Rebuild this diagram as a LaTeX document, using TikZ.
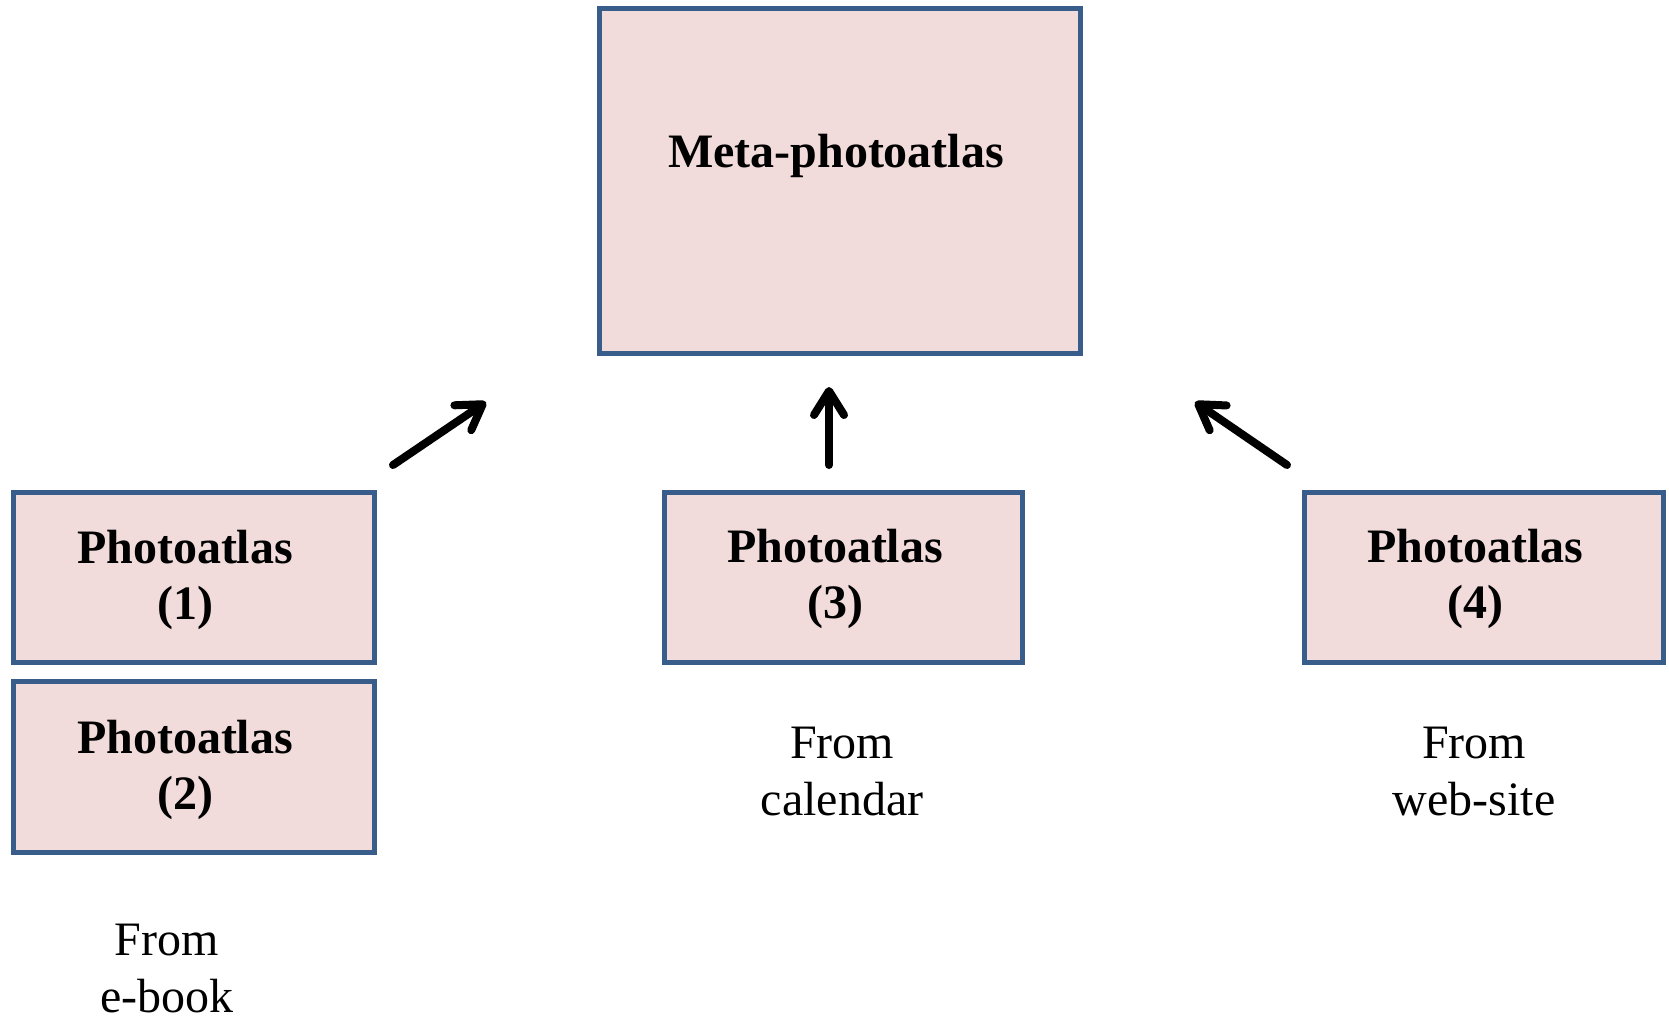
\documentclass[tikz,border=0pt]{standalone}
\usepackage{fontspec}
\setmainfont{Liberation Serif}
\usetikzlibrary{arrows.meta}
\definecolor{boxborder}{RGB}{56,93,138}
\definecolor{boxfill}{RGB}{242,220,219}
\begin{document}
\begin{tikzpicture}[x=1pt,y=-1pt,
  box/.style={draw=boxborder, fill=boxfill, line width=5.5pt, inner sep=0pt, rectangle},
  boldlbl/.style={align=center, inner sep=0pt, font=\fontsize{48}{56}\selectfont\bfseries},
  plainlbl/.style={align=center, inner sep=0pt, font=\fontsize{48}{57}\selectfont},
  arr/.style={line width=8pt, line cap=round, line join=round,
    -{Straight Barb[length=24pt,width=30pt,line cap=round,line join=round]}}]
\useasboundingbox (0,0) rectangle (1669,1020);
% boxes
\node[box, minimum width=481pt, minimum height=345pt] (meta) at (840,181) {};
\node[box, minimum width=361pt, minimum height=170pt] (b1) at (194,577.5) {};
\node[box, minimum width=361pt, minimum height=171pt] (b2) at (194,767) {};
\node[box, minimum width=358pt, minimum height=170pt] (b3) at (843.5,577.5) {};
\node[box, minimum width=359pt, minimum height=170pt] (b4) at (1484,577.5) {};
% box texts
\node[boldlbl, anchor=base] (tmeta) at (836,167) {Meta-photoatlas};
\node[boldlbl] (t1) at (185,580) {Photoatlas\\(1)};
\node[boldlbl] (t2) at (185,769.5) {Photoatlas\\(2)};
\node[boldlbl] (t3) at (835,579) {Photoatlas\\(3)};
\node[boldlbl] (t4) at (1475,579) {Photoatlas\\(4)};
% source labels
\node[plainlbl] (s1) at (167,968.6) {From\\e-book};
\node[plainlbl] (s3) at (842,771.6) {From\\calendar};
\node[plainlbl] (s4) at (1474,771.6) {From\\web-site};
% arrows
\coordinate (a1s) at (393,465);
\coordinate (a1e) at (486,402);
\coordinate (a3s) at (829,465);
\coordinate (a3e) at (829,387);
\coordinate (a4s) at (1287,465);
\coordinate (a4e) at (1195,402);
\draw[arr] (a1s) -- (a1e);
\draw[arr] (a3s) -- (a3e);
\draw[arr] (a4s) -- (a4e);
\end{tikzpicture}
\end{document}
